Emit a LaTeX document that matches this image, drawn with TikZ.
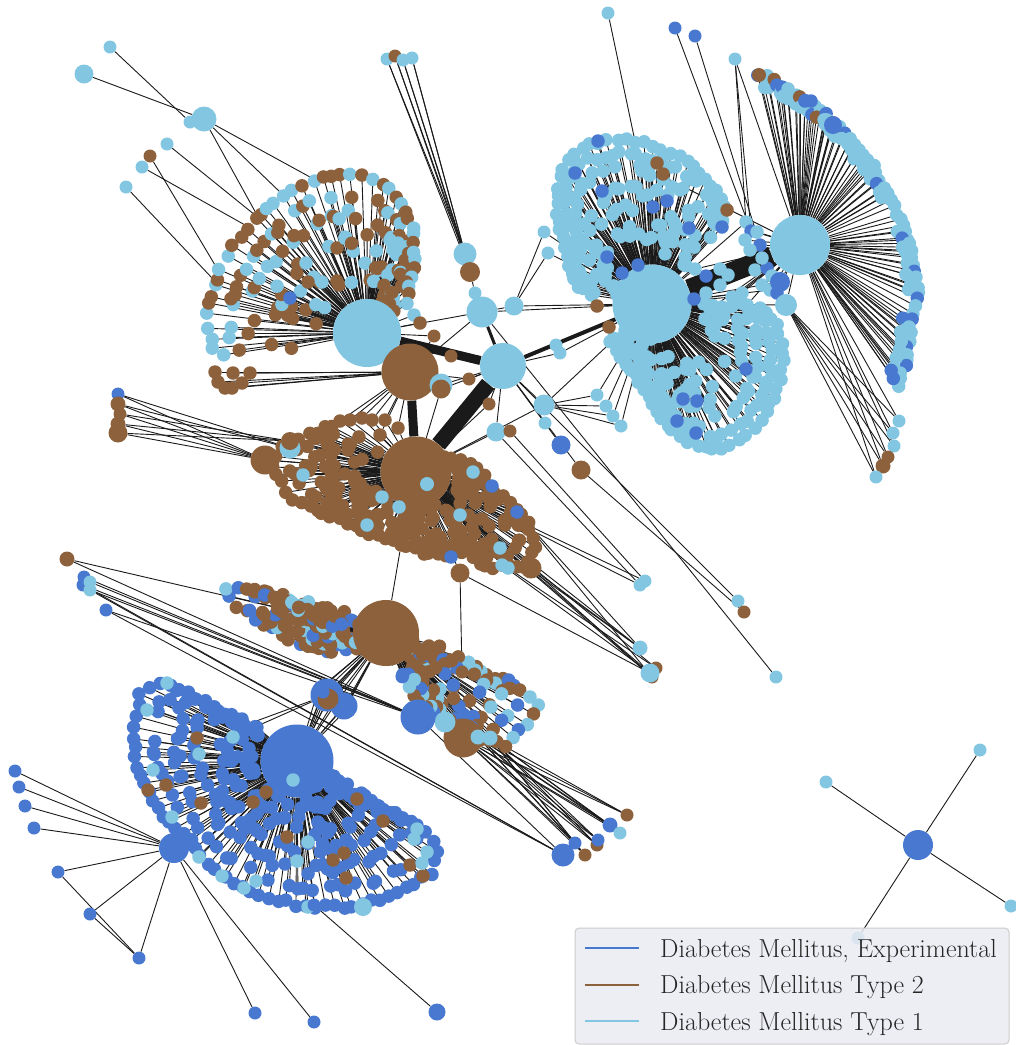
\documentclass[tikz,border=0pt]{standalone}
\usepackage{xcolor}
\usepackage{tikz}
\usetikzlibrary{calc}

\definecolor{nblue}{HTML}{4878CF}
\definecolor{nbrown}{HTML}{8C613C}
\definecolor{ncyan}{HTML}{82C6E2}
\definecolor{edgeblack}{HTML}{1A1A1A}
\definecolor{legendfill}{HTML}{EAEAF2}
\definecolor{legendedge}{HTML}{CCCCCC}
\definecolor{legendtext}{HTML}{262626}

\pgfdeclarelayer{edges}
\pgfdeclarelayer{leaves}
\pgfsetlayers{edges,leaves,main}

\tikzset{
  dot/.style={circle, inner sep=0pt, minimum size=#1, draw=none},
  dot/.default=13.5pt,
  thinlink/.style={line width=0.9pt, draw=edgeblack},
  legendlabel/.style={anchor=base west, inner sep=0pt, text=legendtext, font=\fontsize{26}{30}\selectfont},
}

\newif\ifedgepass

% fan of leaves: id, hub, blue share, blue+brown share, spacing, rings f/p, outline
\newcommand{\fanleaves}[7]{%
  \foreach \bx/\by [count=\seg, remember=\bx as \ax (initially 0), remember=\by as \ay (initially 0)] in {#7}{%
    \ifnum\seg>1
      \pgfmathtruncatemacro\ns{max(1,round(veclen(\bx-\ax,\by-\ay)/#5))}%
      \foreach \j in {1,...,\ns}{%
        \pgfmathsetmacro\ox{\ax+(\bx-\ax)*\j/\ns}%
        \pgfmathsetmacro\oy{\ay+(\by-\ay)*\j/\ns}%
        \foreach \f/\pr [count=\k] in {#6}{%
          \pgfmathsetmacro\rr{rnd}%
          \ifdim\rr pt<\pr pt
            \pgfmathsetmacro\jx{(2+12*(1-\f))*rand}%
            \pgfmathsetmacro\jy{(2+12*(1-\f))*rand}%
            \pgfmathsetmacro\rr{rnd}%
            \def\leafcol{ncyan}%
            \ifdim\rr pt<#4pt \def\leafcol{nbrown}\fi
            \ifdim\rr pt<#3pt \def\leafcol{nblue}\fi
            \ifedgepass
              \coordinate (#1-\seg-\j-\k) at ($(#2)!\f!(\ox,\oy)+(\jx,\jy)$);
              \draw[thinlink] (#2) -- (#1-\seg-\j-\k);
            \else
              \node[dot, fill=\leafcol] (#1-\seg-\j-\k-leaf) at ($(#2)!\f!(\ox,\oy)+(\jx,\jy)$) {};
            \fi
          \fi
        }%
      }%
    \fi
  }%
}
% single placed leaves of one colour, all tied to one hub
\newcommand{\fanextras}[4]{%
  \foreach \x/\y [count=\i] in {#4}{%
    \ifedgepass
      \draw[thinlink] (#2) -- (#1-\i);
    \else
      \node[dot, fill=#3] (#1-\i) at (\x,\y) {};
    \fi
  }%
}
\newcommand{\allfans}{%
  \pgfmathsetseed{4217}%
  \fanleaves{fa}{hubA}{0}{0.5}{10}{1/1,0.87/0.7,0.74/0.65,0.6/0.6,0.47/0.55,0.36/0.35}
    {232/360,213/350,208/327,208/313,212/295,220/270,227/257,240/237,255/220,275/202,293/190,313/180,340/173,360/175,383/183,400/202,412/227,414/242,415/260,410/277,407/302}%
  \fanleaves{fd}{hubD}{0}{1}{9}{1/1,0.87/0.8,0.74/0.75,0.6/0.7,0.47/0.6}
    {340/422,317/432,290/440,268/462,280/483,293/498,310/505,323/515,340/520,355/527,370/533,387/538,400/543,423/553,437/555,463/553,480/563,493/567,525/568,537/547,527/523,510/503,493/490,483/477,470/462,460/458}%
  \fanleaves{fe}{hubE}{0.2}{0.85}{10}{1/1,0.9/0.9,0.8/0.9,0.7/0.9,0.6/0.9,0.5/0.9,0.4/0.9,0.3/0.7}
    {335/655,290/640,255/618,236/606,226/590,240/586,255/592,290/603}%
  \fanleaves{fr}{hubE}{0.3}{0.75}{10}{1/1,0.88/0.8,0.76/0.8,0.64/0.8,0.52/0.7,0.4/0.6}
    {410/665,440/665,470/672,505/680,530/695,537/705,528/725,505/745,480/740,450/725,420/702}%
  \fanleaves{ff}{hubF}{1}{1}{10}{1/1,0.87/0.75,0.74/0.75,0.6/0.75,0.46/0.7,0.33/0.5}
    {227/717,213/708,190/692,160/682,140/693,132/737,137/767,148/793,162/817,190/840,207/863,233/883,267/897,307/907,353/907,390/897,430/873,438/850,427/830,410/823,377/805,357/798,333/788}%
  \fanleaves{fg}{hubG}{0}{0}{9}{1/1,0.92/0.95,0.82/0.8,0.7/0.75,0.57/0.65,0.44/0.45}
    {583/298,573/280,568/257,562/237,558/213,557/187,567/160,583/148,607/140,627/140,653/145,680/157,700/173,717/190,725/207,722/220}%
  \fanleaves{fl}{hubG}{0}{0}{9}{1/1,0.92/0.95,0.82/0.8,0.7/0.75,0.57/0.65,0.44/0.45}
    {607/337,620/357,640/383,657/413,673/430,697/447,720/450,747/437,767/413,780/380,783/353,777/323,760/308}%
  \fanleaves{fh}{hubH}{0.2}{0.21}{7}{1/1,0.94/0.75}
    {753/72,773/80,800/97,820/110,833/123,850/140,873/167,890/200,903/227,913/257,917/293,910/327,907/360,897/387}%
}
\newcommand{\allextras}{%
  \fanextras{ab}{hubA}{nblue}{290/298}%
  \fanextras{ac}{hubA}{ncyan}{306/263,393/250,398/243,390/240,414/315}%
  \fanextras{as}{hubA}{nbrown}{308/282,420/323}%
  \fanextras{bl}{hubB}{nbrown}{215/372,218/382,225/388,232/388,242/383,250/373,233/373}%
  \fanextras{db}{hubD}{nblue}{492/486,517/512,451/557}%
  \fanextras{dc}{hubD}{ncyan}{367/525,303/475,382/497,399/507,460/515,473/472,500/548,502/565,508/568}%
  \fanextras{du}{hubD}{nbrown}{340/421,350/420,362/418,372/420,385/420,398/428,380/435,401/545}%
  \fanextras{fb}{hubF}{nbrown}{197/738,166/785,148/790,201/803,253/802,266/792,287/837,333/860,344/853,346/878,357/799,383/821,410/865,423/876}%
  \fanextras{fc}{hubF}{ncyan}{167/683,147/710,233/737,199/754,153/770,172/817,308/842,297/861,256/881,244/888,308/907,199/857,222/876,414/839,417/829,427/852,422/863,293/780}%
  \fanextras{gb}{hubG}{nblue}{602/191,653/207,667/201,689/228,722/227,607/257,622/273,638/265,746/369,683/399,697/401,677/421,696/433,575/173,598/141,694/299,706/276}%
  \fanextras{gs}{hubG}{nbrown}{657/163,663/174,727/210,597/306,609/327}%
  \fanextras{gn}{hubG}{ncyan}{746/222,755/270,770/290,728/275,720/269,720/285,706/293,695/269,742/293,732/297,747/305,710/309,722/307,640/165}%
  \fanextras{hn}{hubH}{nblue}{751/231,760/245,767/268,777/293,805/101,811/101}%
  \fanextras{hk}{hubH}{ncyan}{762/258,750/250,745/240,772/276,762/285,757/232}%
}

\begin{document}
\begin{tikzpicture}[x=1pt, y=-1pt]
  \useasboundingbox (0,0) rectangle (1016,1045);

  % Hubs
  \node[dot=68pt, fill=ncyan] (hubA) at (367,333) {};
  \node[dot=57pt, fill=nbrown] (hubB) at (410,372) {};
  \node[dot=46pt, fill=ncyan] (hubC) at (503,366) {};
  \node[dot=71pt, fill=nbrown] (hubD) at (416,472) {};
  \node[dot=66pt, fill=nbrown] (hubE) at (386,633) {};
  \node[dot=73pt, fill=nblue] (hubF) at (297,761) {};
  \node[dot=79pt, fill=ncyan] (hubG) at (652,304) {};
  \node[dot=60pt, fill=ncyan] (hubH) at (800,245) {};
  \node[dot=30pt, fill=nblue] (hubI) at (174,848) {};
  \node[dot=30pt, fill=nblue] (hubJ) at (918,845) {};

  % Leaves picked out by colour
  \edgepassfalse
  \allextras
  \node[dot=18pt, fill=ncyan] (fc-big) at (363,907) {};
  \node[dot=20pt, fill=nblue] (hb1) at (780,282) {};
  \node[dot=18pt, fill=nblue] (hb2) at (833,125) {};
  \node[dot=14pt, fill=nbrown] (hb3) at (759,75) {};
  \node[dot=22pt, fill=ncyan] (hc1) at (786,305) {};

  % Smaller nodes
  \foreach \name/\x/\y/\col/\d in {
    p1/110/47/ncyan/12, p2/84/74/ncyan/18, p4/190/122/ncyan/12, p3/204/119/ncyan/24,
    q1/150/156/nbrown/12, q2/167/144/ncyan/12, q3/142/167/ncyan/12, q4/126/187/ncyan/12,
    u1/387/59/ncyan/12, u2/395/56/nbrown/12, u3/403/60/ncyan/12, u4/412/58/ncyan/12,
    v1/465/254/ncyan/22, v2/470/272/nbrown/19, v3/475/293/ncyan/12, w1/482/312/ncyan/30,
    w2/514/306/ncyan/18, w3/544/232/ncyan/12, w4/548/253/ncyan/12,
    x1/451/356/nbrown/12, x2/469/379/nbrown/12, x3/489/404/nbrown/12, x4/496/432/ncyan/18,
    x5/510/431/nbrown/12, x6/434/336/nbrown/12, x7/441/385/ncyan/22, x8/441/389/nbrown/18,
    x9/544/405/ncyan/20, x10/545/423/ncyan/12, x11/561/445/nblue/18, x12/581/470/nbrown/18,
    x13/556/345/ncyan/12, x14/560/353/ncyan/12,
    y1/597/395/ncyan/12, y2/606/406/ncyan/12, y3/613/416/ncyan/12, y4/621/426/ncyan/12,
    z1/608/13/ncyan/12, z2/675/28/nblue/12, z3/695/36/nblue/12, z4/735/59/ncyan/12,
    r1/776/677/ncyan/12, r2/738/601/ncyan/12, r3/744/612/nbrown/12, r4/640/585/ncyan/12,
    r5/645/581/ncyan/12, r6/640/648/ncyan/14, r8/656/668/nbrown/12, r9/652/677/nbrown/12,
    r7/650/673/ncyan/18,
    s1/460/573/nbrown/18, s2/531/568/nbrown/20, s3/462/672/nbrown/12,
    l1/118/394/nblue/12, l2/118/404/nbrown/14, l3/120/414/nbrown/12, l4/118/424/nbrown/14,
    l5/118/433/nbrown/18, l7/290/448/ncyan/20, l8/290/441/nbrown/17, l6/265/460/nbrown/28,
    m1/67/559/nbrown/14, m2/84/577/nblue/12, m3/83/585/nblue/12, m4/90/582/ncyan/12,
    m5/90/590/ncyan/12, m6/106/610/nblue/12, m8/463/738/nbrown/38, m12/445/722/ncyan/20,
    m7/418/717/nblue/34, m10/478/737/ncyan/14, m11/490/738/ncyan/14, m9/563/855/nblue/22,
    n1/575/843/nblue/12, n2/585/855/nbrown/12, n3/597/845/nbrown/12, n4/598/840/nblue/12,
    n5/610/825/nblue/14, n6/620/833/ncyan/12, n7/627/815/nbrown/12,
    o1/327/695/nblue/32, o4/344/706/nblue/26, o2/328/699/nbrown/20, o3/323/692/nblue/12,
    i1/15/771/nblue/12, i2/19/787/nblue/12, i3/25/806/nblue/12, i4/34/828/nblue/12,
    i5/58/872/nblue/12, i6/90/914/nblue/12, i7/139/958/nblue/12, i8/255/1013/nblue/12,
    i9/314/1022/nblue/12, i10/437/1012/nblue/16, i11/314/905/nblue/12,
    j1/980/750/ncyan/12, j2/826/782/ncyan/12, j3/1011/906/ncyan/12, j4/858/938/ncyan/12,
    t1/899/421/ncyan/12, t2/893/433/ncyan/12, t3/894/446/ncyan/12, t5/883/466/nbrown/14,
    t4/888/457/nbrown/12, t6/876/477/ncyan/12, tc/427/484/ncyan/13}{
    \node[dot=\d pt + 1pt, fill=\col] (\name) at (\x,\y) {};
  }

  % Free ends inside the fans
  \foreach \name/\x/\y in {ta1/257/215, ta2/280/192, ta3/310/177, ta4/255/215, ta5/245/225, ta6/215/265, ta7/212/278, oa/240/727, ob/237/735}{
    \coordinate (\name) at (\x,\y);
  }

  % Fan leaves
  \begin{pgfonlayer}{leaves}
    \edgepassfalse
    \allfans
  \end{pgfonlayer}

  \begin{pgfonlayer}{edges}
    \edgepasstrue
    \allfans
    \allextras
    % Heavy links
    \draw[edgeblack, line width=9pt] (hubA) -- (hubC);
    \draw[edgeblack, line width=9pt] (hubB) -- (hubD);
    \draw[edgeblack, line width=16pt] (hubC) -- (hubD);
    \draw[edgeblack, line width=5pt] (hubA) -- (hubB);
    \draw[edgeblack, line width=4pt] (hubC) -- (hubG);
    \draw[edgeblack, line width=3pt] (w1) -- (hubC);
    \draw[edgeblack, line width=20pt] (hubG) -- (hubH);
    % Thin links
    \foreach \a/\b in {
      p2/p3, p1/p4, p3/ta1, p3/ta2, p3/ta3, q2/ta4, q3/ta5, q1/ta6, q4/ta7,
      u1/v1, u2/v1, u3/v1, u4/v1, u1/v2, u2/v2, u3/v2, u4/v2, v2/v3, v3/w1,
      w1/w2, w2/w3, w2/w4, w1/hubA, w1/hubB, w2/hubG, w3/hubG, w4/hubG, w1/hubG,
      x1/hubC, x2/hubC, x2/hubB, x3/hubC, x3/hubD, x4/hubC, x4/hubD, x5/x4,
      x6/hubA, x6/hubB, x7/hubB, x7/hubC, x8/hubB, x8/hubC, x8/hubD,
      x9/hubC, x9/hubG, x9/hubD, x10/hubC, x11/hubC, x12/hubC,
      x13/hubC, x13/hubG, x14/hubC, x14/hubG,
      y1/x9, y2/x9, y3/x9, y4/x9, y1/hubG, y2/hubG, y3/hubG, y4/hubG,
      z1/gn-14, z2/hn-1, z3/hn-2, z4/hubH, z4/hn-1, z4/gn-1,
      r1/w1, r2/hubC, r3/x12, r4/x4, r5/x5, r4/hubD, r5/hubD, r6/hubD, r7/hubD, r8/hubD, r9/hubD,
      dc-7/r6, dc-8/r7, dc-9/r8, db-2/r9, db-2/r6,
      s1/hubD, s1/s3, s1/r7, s2/hubD, s2/r6, s2/r9, du-8/hubE, s3/hubE,
      l1/l6, l2/l6, l3/l6, l4/l6, l5/l6, l1/l7, l2/l7, l3/l8, l4/l8, l5/l8,
      l6/hubD, l7/hubD, l8/hubD,
      du-1/hubB, du-2/hubB, du-3/hubB, du-4/hubB, du-5/hubB, du-6/hubB, du-7/hubB,
      m1/hubE, m1/m7, m2/m7, m3/m7, m4/m7, m5/m7, m6/m7, m3/m9, m5/m9, m6/m9,
      m7/hubE, m8/hubE, m10/hubE, m11/hubE, m12/hubE, m7/m9,
      n1/m8, n2/m8, n3/m8, n4/m8, n5/m8, n6/m8, n7/m8,
      n1/m10, n2/m10, n3/m10, n4/m10, n5/m10, n6/m10, n7/m10,
      n1/m11, n2/m11, n3/m11, n4/m11, n5/m11, n6/m11, n7/m11,
      o1/hubE, o3/hubE, o4/hubE, o1/hubF, o3/hubF, o4/hubF, o2/hubE, o2/hubF, o1/oa, o1/ob,
      i1/hubI, i2/hubI, i3/hubI, i4/hubI, i5/hubI, i6/hubI, i7/hubI, i8/hubI, i9/hubI,
      i5/i7, i6/i7, i10/i11, i11/hubF, hubI/hubF,
      j1/hubJ, j2/hubJ, j3/hubJ, j4/hubJ,
      t1/hubH, t2/hubH, t3/hubH, t4/hubH, t5/hubH, t6/hubH,
      t1/hc1, t2/hc1, t3/hc1, t4/hc1, t5/hc1, t6/hc1, hc1/hubH, hc1/hubG,
      hb1/hubG, hb1/hubH, hb2/hubH, hb3/hubH}{
      \draw[thinlink] (\a) -- (\b);
    }
    \foreach \x/\y in {318/690, 325/685, 335/686, 338/695, 320/705, 330/712, 340/716, 350/700}{
      \draw[thinlink] (hubE) -- (\x,\y) -- (hubF);
    }
    \foreach \i in {3,...,14}{
      \draw[thinlink] (gn-\i) -- (hubH);
    }
  \end{pgfonlayer}

  % Legend
  \node[rounded corners=4pt, draw=legendedge, fill=legendfill, fill opacity=0.85, line width=1pt,
        minimum width=434pt, minimum height=116pt, inner sep=0pt] (legendbox) at (792,986) {};
  \foreach \row/\y/\base/\col/\txt in {1/948/957/nblue/{Diabetes Mellitus, Experimental}, 2/984.6/993.4/nbrown/{Diabetes Mellitus Type 2}, 3/1021/1030/ncyan/{Diabetes Mellitus Type 1}}{
    \coordinate (keyl\row) at (585,\y);
    \coordinate (keyr\row) at (639,\y);
    \draw[\col, line width=2pt] (keyl\row) -- (keyr\row);
    \node[legendlabel] (keytext\row) at (660,\base) {\txt};
  }
\end{tikzpicture}
\end{document}
